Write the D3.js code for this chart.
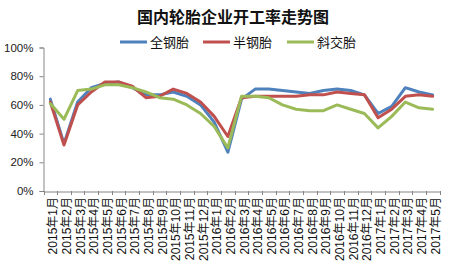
<!DOCTYPE html>
<html><head><meta charset="utf-8">
<script src="https://cdn.jsdelivr.net/npm/d3@7/dist/d3.min.js"></script>
<style>
html,body{margin:0;padding:0;background:#fff;}
svg{display:block;font-family:"Liberation Sans","Noto Sans CJK SC",sans-serif;}
</style></head>
<body>
<svg id="c" width="468" height="279"></svg>
<script>
const months = ["2015年1月","2015年2月","2015年3月","2015年4月","2015年5月","2015年6月","2015年7月","2015年8月","2015年9月","2015年10月","2015年11月","2015年12月","2016年1月","2016年2月","2016年3月","2016年4月","2016年5月","2016年6月","2016年7月","2016年8月","2016年9月","2016年10月","2016年11月","2016年12月","2017年1月","2017年2月","2017年3月","2017年4月","2017年5月"];
const allSteel = [64,33,62,72,75,76,72,67,67,69,66,60,48,27,64,71,71,70,69,68,70,71,70,67,54,59,72,69,67];
const semiSteel = [62,32,60,69,76,76,73,65,66,71,68,62,52,38,65,66,66,66,66,67,67,69,68,67,51,57,66,67,66];
const bias = [61,50,70,71,74,74,72,69,65,64,60,54,45,30,66,66,65,60,57,56,56,60,57,54,44,52,62,58,57];
const yTicks = [0,20,40,60,80,100];
const seriesNames = ["全钢胎","半钢胎","斜交胎"];
const colors = ["#4f81bd","#c0504d","#9bbb59"];

const svg = d3.select("#c");
const x = d3.scaleBand().domain(months).range([43.5, 439.5]);
const y = d3.scaleLinear().domain([0,100]).range([191, 47.5]);

svg.append("text").attr("x",233).attr("y",23).attr("text-anchor","middle")
  .attr("font-family","'Noto Sans CJK SC',sans-serif").attr("font-weight","bold")
  .attr("font-size",16).attr("fill","#111").text("国内轮胎企业开工率走势图");

// y axis
const ya = svg.append("g").attr("transform","translate(43.5,0)")
  .call(d3.axisLeft(y).tickValues(yTicks).tickSize(4).tickFormat(d=>d+"%"));
ya.select(".domain").attr("stroke","#868686");
ya.selectAll(".tick line").attr("stroke","#868686");
ya.selectAll("text").attr("font-size",11.5).attr("fill","#222").attr("x",-10)
  .attr("font-family","'Liberation Sans',sans-serif");

// x axis
const xa = svg.append("g").attr("transform","translate(0,191.5)")
  .call(d3.axisBottom(x).tickSize(0).tickFormat(""));
xa.select(".domain").attr("stroke","#868686");
xa.selectAll(".tick").remove();
const bounds = months.map((m,i)=>x(m)).concat([x.range()[1]]);
svg.append("g").selectAll("line").data(bounds).join("line")
  .attr("x1",d=>Math.round(d)+0.5).attr("x2",d=>Math.round(d)+0.5)
  .attr("y1",191).attr("y2",195).attr("stroke","#868686");
svg.append("g").selectAll("text").data(months).join("text")
  .attr("transform",d=>`translate(${x(d)+x.bandwidth()/2+7},197) rotate(-90)`)
  .attr("text-anchor","end").attr("font-size",12).attr("fill","#111")
  .attr("font-family","'Liberation Sans','Noto Sans CJK SC',sans-serif")
  .text(d=>d);

// lines
const data = [allSteel, semiSteel, bias];
const line = d3.line().x((d,i)=>x(months[i])+x.bandwidth()/2).y(d=>y(d));
svg.append("g").selectAll("path").data(data).join("path")
  .attr("d",line).attr("fill","none").attr("stroke",(d,i)=>colors[i])
  .attr("stroke-width",3).attr("stroke-linejoin","round").attr("stroke-linecap","round");

// legend
const legX = [120,203,287];
const lg = svg.append("g").selectAll("g").data(seriesNames).join("g")
  .attr("transform",(d,i)=>`translate(${legX[i]},42)`);
lg.append("line").attr("x1",0).attr("x2",27).attr("y1",0).attr("y2",0)
  .attr("stroke",(d,i)=>colors[i]).attr("stroke-width",3);
lg.append("text").attr("x",30).attr("y",5).attr("font-size",13).attr("fill","#111")
  .attr("font-family","'Noto Sans CJK SC',sans-serif").text(d=>d);
</script>
</body></html>
